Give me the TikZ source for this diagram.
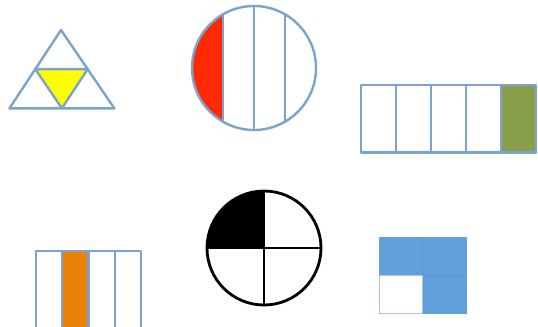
\documentclass[tikz,border=0pt]{standalone}
\usetikzlibrary{calc}
\begin{document}
\begin{tikzpicture}[x=0.75pt,y=-0.75pt]
\definecolor{edgeblue}{HTML}{7BA3CF}
\definecolor{fillyellow}{HTML}{FFFF00}
\definecolor{fillred}{HTML}{FF2A00}
\definecolor{fillgreen}{HTML}{889E4A}
\definecolor{fillorange}{HTML}{EB8206}
\definecolor{fillblue}{HTML}{62A0DC}
\tikzset{
  blueline/.style={draw=edgeblue, line width=1.8pt, line join=round},
  blackline/.style={draw=black, line width=2.1pt},
}
\useasboundingbox (0,0) rectangle (538,326);
\fill[white] (0,0) rectangle (538,326);
% triangle
\coordinate (tA) at (61,30);
\coordinate (tL) at (9.5,108.3);
\coordinate (tR) at (114.3,108.3);
\coordinate (mL) at ($(tA)!0.5!(tL)$);
\coordinate (mR) at ($(tA)!0.5!(tR)$);
\coordinate (mB) at ($(tL)!0.5!(tR)$);
\fill[fillyellow] (mL) -- (mR) -- (mB) -- cycle;
\draw[blueline] (tA) -- (tL) -- (tR) -- cycle;
\draw[blueline] (mL) -- (mR) -- (mB) -- cycle;
% circle with strips
\coordinate (c1) at (254,68);
\fill[fillred] (223,{68-sqrt(62*62-31*31)}) arc[start angle=240, end angle=120, radius=62] -- cycle;
\draw[blueline] (c1) circle[radius=62];
\draw[blueline] (223,{68-sqrt(62*62-31*31)}) -- (223,{68+sqrt(62*62-31*31)});
\draw[blueline] (254,6) -- (254,130);
\draw[blueline] (285,{68-sqrt(62*62-31*31)}) -- (285,{68+sqrt(62*62-31*31)});
% five strips
\fill[fillgreen] (501,85) rectangle (535.7,152.3);
\foreach \i in {0,...,4} {
  \draw[blueline] ({361+35*\i},85) rectangle ({396+35*\i},152.3);
}
% four strips bottom-left
\fill[fillorange] (62.2,250.7) rectangle (88.5,330);
\foreach \i in {0,...,3} {
  \draw[blueline] ({36+26.25*\i},250.7) rectangle ({62.25+26.25*\i},330);
}
% black circle
\coordinate (c2) at (264,248);
\fill[black] (c2) -- (207,248) arc[start angle=180, end angle=270, radius=57] -- cycle;
\draw[blackline] (c2) circle[radius=57];
\draw[blackline] (207,248) -- (321,248);
\draw[blackline] (264,191) -- (264,305);
% blue square
\fill[fillblue] (379,236.7) rectangle (467.3,314);
\fill[white] (379.8,275.7) rectangle (422.7,313.2);
\draw[draw=fillblue!70!black!90, line width=0.5pt, opacity=0.4] (422.7,236.7) -- (422.7,275.7) (379,275.7) -- (467.3,275.7);
\draw[draw=fillblue!60, line width=1pt] (379.5,275.7) rectangle (422.7,313.5);
\end{tikzpicture}
\end{document}
